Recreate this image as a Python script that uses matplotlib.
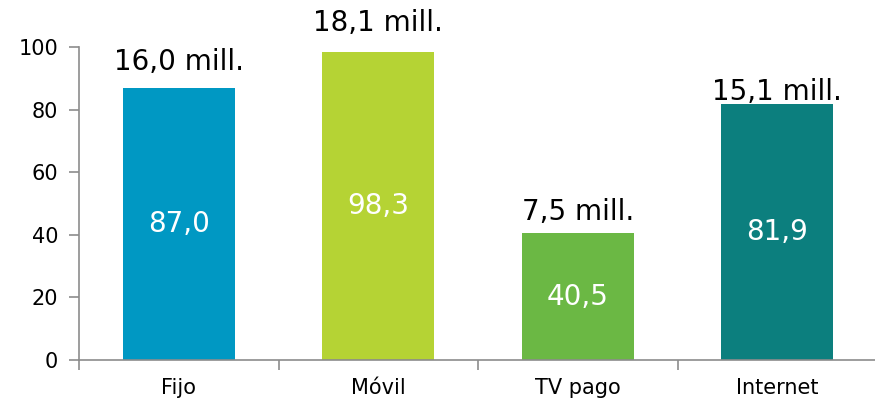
import matplotlib
matplotlib.use("Agg")
import matplotlib.pyplot as plt
import numpy as np

categories = ["Fijo", "Móvil", "TV pago", "Internet"]
penetration = [87.0, 98.3, 40.5, 81.9]
subscribers = ["16,0 mill.", "18,1 mill.", "7,5 mill.", "15,1 mill."]

colors = ["#0098C3", "#B5D334", "#6BB844", "#0C7F7E"]
label_lift = [8.2, 9.4, 6.9, 3.7]  # how far each top label sits above its bar

plt.rcParams["font.family"] = ["DejaVu Sans"]

fig = plt.figure(figsize=(8.75, 4.05), dpi=100)
ax = fig.add_axes([0.0903, 0.111, 0.912, 0.773])

x = np.arange(len(categories))
bars = ax.bar(x, penetration, width=0.56, color=colors)

for xi, val, sub, lift in zip(x, penetration, subscribers, label_lift):
    ax.text(xi, val / 2, f"{val:.1f}".replace(".", ","), ha="center", va="center",
            color="white", fontsize=20)
    ax.text(xi, val + lift, sub, ha="center", va="center", color="black", fontsize=20)

ax.set_xlim(-0.5, len(categories) - 0.5)
ax.set_ylim(0, 100)
ax.set_yticks(range(0, 101, 20))
ax.tick_params(axis="y", labelsize=15, length=7, width=1.2, color="#8c8c8c", pad=8)

ax.set_xticks(x)
ax.set_xticklabels(categories)
ax.set_xticks(np.arange(-0.5, len(categories), 1.0), minor=True)
ax.tick_params(axis="x", which="major", length=0, labelsize=15, pad=13)
ax.tick_params(axis="x", which="minor", length=7, width=1.2, color="#8c8c8c")

for side in ("top", "right"):
    ax.spines[side].set_visible(False)
for side in ("left", "bottom"):
    ax.spines[side].set_color("#8c8c8c")
    ax.spines[side].set_linewidth(1.2)

for t in ax.texts:
    t.set_clip_on(False)

fig.savefig("out.png", dpi=100)
